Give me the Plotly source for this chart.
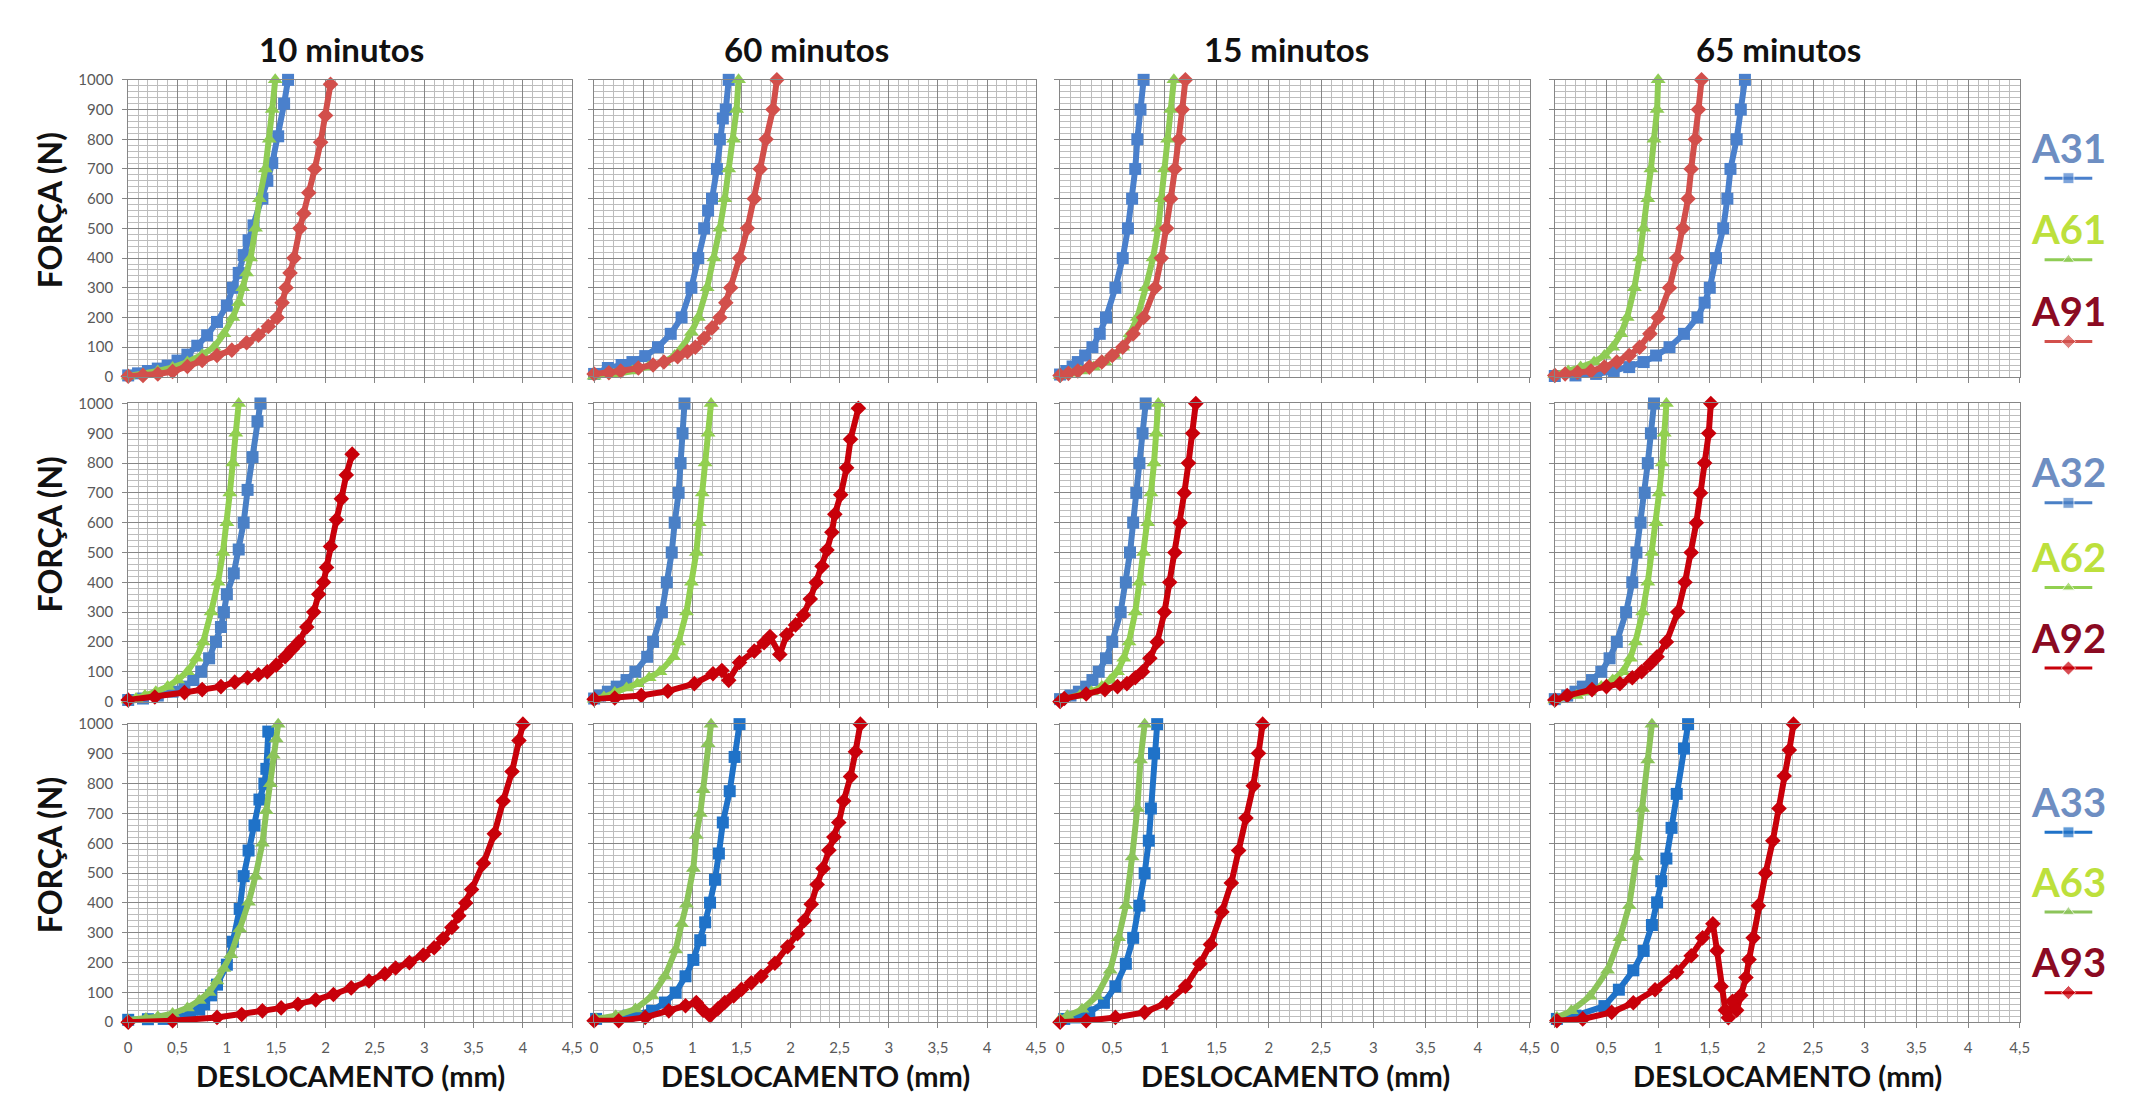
import plotly.graph_objects as go

W, H = 2145, 1102

# ---------------- data (displacement mm, force N) ----------------
# Row 1 -- 10 minutos
r1c1_a31_x = [0, 0.1, 0.2, 0.3, 0.4, 0.5, 0.6, 0.7, 0.8, 0.9, 1.0, 1.06, 1.12, 1.17, 1.22, 1.27, 1.36, 1.41, 1.46, 1.52, 1.58, 1.62]
r1c1_a31_y = [5, 12, 20, 28, 38, 55, 75, 105, 140, 185, 240, 300, 350, 410, 460, 510, 600, 660, 720, 810, 920, 1000]
r1c1_a61_x = [0, 0.15, 0.3, 0.45, 0.6, 0.75, 0.87, 0.97, 1.06, 1.12, 1.16, 1.2, 1.24, 1.29, 1.33, 1.39, 1.43, 1.46, 1.49]
r1c1_a61_y = [3, 10, 20, 32, 50, 75, 100, 145, 200, 250, 300, 350, 400, 500, 600, 700, 800, 900, 1000]
r1c1_a91_x = [0, 0.15, 0.3, 0.45, 0.6, 0.75, 0.9, 1.05, 1.2, 1.32, 1.42, 1.51, 1.56, 1.6, 1.64, 1.68, 1.74, 1.78, 1.83, 1.89, 1.95, 2.0, 2.05]
r1c1_a91_y = [2, 5, 10, 18, 35, 55, 72, 90, 115, 140, 170, 200, 250, 300, 350, 400, 500, 550, 620, 700, 790, 880, 985]
# Row 1 -- 60 minutos
r1c2_a31_x = [0, 0.14, 0.28, 0.39, 0.52, 0.65, 0.78, 0.89, 0.99, 1.06, 1.12, 1.16, 1.2, 1.25, 1.28, 1.31, 1.34, 1.37]
r1c2_a31_y = [10, 30, 40, 50, 70, 100, 145, 200, 300, 400, 500, 560, 600, 700, 800, 870, 900, 1000]
r1c2_a61_x = [0, 0.2, 0.39, 0.55, 0.71, 0.82, 0.9, 0.99, 1.06, 1.15, 1.22, 1.28, 1.33, 1.37, 1.42, 1.45, 1.47]
r1c2_a61_y = [2, 8, 20, 33, 50, 72, 100, 150, 200, 300, 400, 500, 600, 700, 800, 900, 1000]
r1c2_a91_x = [0, 0.15, 0.27, 0.45, 0.6, 0.71, 0.85, 0.95, 1.03, 1.12, 1.2, 1.28, 1.34, 1.39, 1.48, 1.56, 1.63, 1.69, 1.75, 1.82, 1.86]
r1c2_a91_y = [10, 14, 20, 30, 40, 50, 68, 85, 100, 130, 165, 200, 250, 300, 400, 500, 600, 700, 800, 900, 1000]
# Row 1 -- 15 minutos
r1c3_a31_x = [0, 0.06, 0.12, 0.17, 0.24, 0.31, 0.38, 0.44, 0.53, 0.6, 0.65, 0.69, 0.72, 0.74, 0.77, 0.8]
r1c3_a31_y = [8, 20, 35, 50, 72, 100, 145, 200, 300, 400, 500, 600, 700, 800, 900, 1000]
r1c3_a61_x = [0, 0.1, 0.2, 0.32, 0.43, 0.52, 0.6, 0.67, 0.74, 0.82, 0.89, 0.94, 0.97, 1.0, 1.03, 1.06, 1.09]
r1c3_a61_y = [5, 12, 20, 33, 50, 72, 100, 145, 200, 300, 400, 500, 600, 700, 800, 900, 1000]
r1c3_a91_x = [0, 0.08, 0.17, 0.28, 0.4, 0.5, 0.6, 0.7, 0.8, 0.91, 0.97, 1.02, 1.06, 1.1, 1.14, 1.17, 1.2]
r1c3_a91_y = [5, 12, 20, 33, 50, 72, 100, 145, 200, 300, 400, 500, 600, 700, 800, 900, 1000]
# Row 1 -- 65 minutos
r1c4_a31_x = [0, 0.2, 0.4, 0.57, 0.72, 0.86, 0.98, 1.11, 1.25, 1.38, 1.45, 1.5, 1.56, 1.63, 1.67, 1.7, 1.76, 1.8, 1.84]
r1c4_a31_y = [3, 5, 10, 20, 33, 50, 72, 100, 145, 200, 250, 300, 400, 500, 600, 700, 800, 900, 1000]
r1c4_a61_x = [0, 0.13, 0.25, 0.38, 0.48, 0.56, 0.64, 0.7, 0.77, 0.82, 0.86, 0.9, 0.93, 0.96, 0.99, 1.0]
r1c4_a61_y = [8, 20, 33, 50, 72, 100, 145, 200, 300, 400, 500, 600, 700, 800, 900, 1000]
r1c4_a91_x = [0, 0.1, 0.22, 0.35, 0.48, 0.6, 0.72, 0.82, 0.92, 1.0, 1.11, 1.18, 1.24, 1.29, 1.32, 1.36, 1.39, 1.42]
r1c4_a91_y = [5, 10, 15, 20, 33, 50, 72, 100, 145, 200, 300, 400, 500, 600, 700, 800, 900, 1000]

# Row 2 -- 10 minutos
r2c1_a32_x = [0, 0.15, 0.3, 0.45, 0.57, 0.66, 0.74, 0.82, 0.89, 0.94, 0.97, 1.0, 1.07, 1.12, 1.17, 1.21, 1.26, 1.31, 1.34]
r2c1_a32_y = [5, 10, 20, 33, 50, 72, 100, 145, 200, 250, 300, 360, 430, 510, 600, 710, 820, 940, 1000]
r2c1_a62_x = [0, 0.08, 0.17, 0.28, 0.4, 0.5, 0.6, 0.69, 0.76, 0.84, 0.91, 0.96, 1.0, 1.03, 1.06, 1.09, 1.12]
r2c1_a62_y = [5, 10, 20, 33, 50, 72, 100, 145, 200, 300, 400, 500, 600, 700, 800, 900, 1000]
r2c1_a92_x = [0, 0.27, 0.57, 0.75, 0.94, 1.08, 1.21, 1.32, 1.41, 1.5, 1.59, 1.66, 1.73, 1.81, 1.88, 1.93, 1.98, 2.01, 2.05, 2.11, 2.16, 2.21, 2.27]
r2c1_a92_y = [5, 15, 30, 40, 50, 65, 80, 90, 100, 122, 150, 175, 200, 250, 300, 360, 400, 450, 520, 610, 680, 760, 830]
# Row 2 -- 60 minutos
r2c2_a32_x = [0, 0.06, 0.14, 0.23, 0.33, 0.42, 0.54, 0.6, 0.69, 0.74, 0.79, 0.82, 0.86, 0.88, 0.9, 0.92]
r2c2_a32_y = [10, 20, 33, 50, 72, 100, 150, 200, 300, 400, 500, 600, 700, 800, 900, 1000]
r2c2_a62_x = [0, 0.1, 0.21, 0.33, 0.44, 0.56, 0.67, 0.81, 0.86, 0.94, 0.99, 1.04, 1.07, 1.1, 1.13, 1.16, 1.19]
r2c2_a62_y = [8, 15, 30, 45, 60, 80, 100, 150, 200, 300, 400, 500, 600, 700, 800, 900, 1000]
r2c2_a92_x = [0, 0.21, 0.48, 0.75, 1.02, 1.21, 1.3, 1.37, 1.48, 1.63, 1.73, 1.79, 1.89, 1.96, 2.05, 2.13, 2.2, 2.26, 2.32, 2.37, 2.42, 2.45, 2.51, 2.57, 2.61, 2.69]
r2c2_a92_y = [8, 12, 20, 35, 60, 93, 104, 71, 131, 169, 197, 218, 158, 224, 257, 290, 344, 399, 454, 508, 568, 628, 694, 784, 880, 984]
# Row 2 -- 15 minutos
r2c3_a32_x = [0, 0.1, 0.18, 0.25, 0.31, 0.37, 0.44, 0.5, 0.58, 0.63, 0.67, 0.7, 0.73, 0.76, 0.79, 0.82]
r2c3_a32_y = [8, 20, 33, 50, 72, 100, 145, 200, 300, 400, 500, 600, 700, 800, 900, 1000]
r2c3_a62_x = [0, 0.19, 0.3, 0.4, 0.48, 0.55, 0.61, 0.66, 0.72, 0.76, 0.8, 0.84, 0.87, 0.9, 0.92, 0.94]
r2c3_a62_y = [5, 20, 33, 50, 72, 100, 145, 200, 300, 400, 500, 600, 700, 800, 900, 1000]
r2c3_a92_x = [0, 0.04, 0.25, 0.43, 0.55, 0.64, 0.72, 0.79, 0.86, 0.93, 1.0, 1.05, 1.1, 1.15, 1.19, 1.23, 1.27, 1.3]
r2c3_a92_y = [0, 10, 25, 40, 50, 60, 80, 100, 145, 200, 300, 400, 500, 600, 700, 800, 900, 1000]
# Row 2 -- 65 minutos
r2c4_a32_x = [0, 0.12, 0.2, 0.27, 0.36, 0.45, 0.53, 0.6, 0.69, 0.75, 0.79, 0.83, 0.87, 0.9, 0.93, 0.96]
r2c4_a32_y = [8, 20, 33, 50, 72, 100, 145, 200, 300, 400, 500, 600, 700, 800, 900, 1000]
r2c4_a62_x = [0, 0.21, 0.33, 0.45, 0.56, 0.66, 0.73, 0.78, 0.85, 0.9, 0.94, 0.98, 1.01, 1.04, 1.06, 1.08]
r2c4_a62_y = [5, 20, 33, 50, 72, 100, 145, 200, 300, 400, 500, 600, 700, 800, 900, 1000]
r2c4_a92_x = [0, 0.12, 0.36, 0.5, 0.63, 0.75, 0.84, 0.92, 0.99, 1.08, 1.19, 1.26, 1.32, 1.37, 1.41, 1.45, 1.49, 1.51]
r2c4_a92_y = [5, 20, 40, 50, 60, 80, 100, 125, 150, 200, 300, 400, 500, 600, 700, 800, 900, 1000]

# Row 3 -- 10 minutos
r3c1_a33_x = [0, 0.2, 0.36, 0.5, 0.63, 0.72, 0.77, 0.84, 0.9, 1.0, 1.06, 1.13, 1.17, 1.22, 1.28, 1.33, 1.38, 1.4, 1.42]
r3c1_a33_y = [8, 10, 11, 18, 27, 42, 60, 90, 126, 193, 270, 380, 490, 576, 660, 747, 800, 850, 975]
r3c1_a63_x = [0, 0.18, 0.3, 0.45, 0.6, 0.72, 0.82, 0.9, 0.97, 1.04, 1.13, 1.22, 1.29, 1.36, 1.4, 1.44, 1.47, 1.5, 1.52]
r3c1_a63_y = [7, 12, 18, 29, 48, 73, 100, 138, 180, 226, 313, 402, 490, 600, 709, 800, 896, 950, 1000]
r3c1_a93_x = [0, 0.45, 0.9, 1.15, 1.36, 1.55, 1.72, 1.9, 2.08, 2.26, 2.44, 2.6, 2.71, 2.85, 2.99, 3.1, 3.19, 3.28, 3.35, 3.42, 3.48, 3.6, 3.71, 3.8, 3.89, 3.96, 4.0]
r3c1_a93_y = [0, 5, 16, 26, 38, 48, 60, 75, 93, 115, 138, 162, 182, 200, 225, 250, 280, 318, 357, 400, 445, 533, 632, 742, 841, 945, 1000]
# Row 3 -- 60 minutos
r3c2_a33_x = [0.02, 0.35, 0.59, 0.72, 0.83, 0.93, 1.01, 1.08, 1.13, 1.18, 1.23, 1.27, 1.31, 1.38, 1.43, 1.48]
r3c2_a33_y = [11, 22, 38, 66, 99, 154, 209, 275, 335, 401, 478, 566, 670, 775, 890, 1000]
r3c2_a63_x = [0.02, 0.22, 0.42, 0.59, 0.72, 0.83, 0.89, 0.94, 1.01, 1.04, 1.08, 1.11, 1.16, 1.19]
r3c2_a63_y = [11, 22, 44, 88, 154, 242, 330, 396, 516, 626, 700, 780, 934, 1000]
r3c2_a93_x = [0, 0.25, 0.52, 0.76, 0.93, 1.04, 1.11, 1.18, 1.26, 1.33, 1.42, 1.5, 1.6, 1.7, 1.84, 1.97, 2.07, 2.14, 2.21, 2.27, 2.33, 2.39, 2.44, 2.49, 2.54, 2.61, 2.66, 2.71]
r3c2_a93_y = [5, 5, 16, 38, 55, 66, 40, 22, 45, 66, 88, 110, 132, 154, 198, 253, 297, 341, 396, 462, 516, 577, 621, 670, 742, 824, 907, 1000]
# Row 3 -- 15 minutos
r3c3_a33_x = [0.04, 0.14, 0.28, 0.42, 0.53, 0.63, 0.7, 0.76, 0.81, 0.85, 0.87, 0.9, 0.93]
r3c3_a33_y = [11, 16, 33, 65, 120, 196, 283, 391, 500, 609, 717, 902, 1000]
r3c3_a63_x = [0.0, 0.07, 0.21, 0.35, 0.48, 0.56, 0.63, 0.69, 0.74, 0.77, 0.81]
r3c3_a63_y = [10, 22, 43, 87, 174, 283, 391, 554, 717, 880, 1000]
r3c3_a93_x = [0, 0.25, 0.53, 0.81, 1.02, 1.2, 1.34, 1.44, 1.55, 1.64, 1.71, 1.78, 1.85, 1.9, 1.94]
r3c3_a93_y = [0, 5, 16, 33, 65, 120, 196, 261, 370, 467, 576, 685, 793, 902, 1000]
# Row 3 -- 65 minutos
r3c4_a33_x = [0.02, 0.2, 0.48, 0.62, 0.76, 0.86, 0.94, 0.99, 1.03, 1.08, 1.13, 1.18, 1.25, 1.29]
r3c4_a33_y = [11, 22, 54, 109, 174, 239, 326, 402, 473, 549, 652, 766, 918, 1000]
r3c4_a63_x = [0.02, 0.16, 0.34, 0.51, 0.63, 0.72, 0.79, 0.85, 0.9, 0.94]
r3c4_a63_y = [16, 38, 87, 174, 283, 391, 554, 717, 880, 1000]
r3c4_a93_x = [0.02, 0.27, 0.55, 0.76, 0.97, 1.18, 1.32, 1.43, 1.53, 1.57, 1.61, 1.65, 1.68, 1.72, 1.76, 1.8, 1.85, 1.88, 1.92, 1.97, 2.04, 2.11, 2.17, 2.22, 2.27, 2.31]
r3c4_a93_y = [5, 11, 33, 65, 109, 168, 223, 283, 330, 240, 120, 40, 15, 70, 40, 90, 150, 210, 283, 391, 500, 609, 717, 826, 913, 1000]

col_titles = ["10 minutos", "60 minutos", "15 minutos", "65 minutos"]
legend_labels = [["A31", "A61", "A91"], ["A32", "A62", "A92"], ["A33", "A63", "A93"]]
x_tickvals = [0, 0.5, 1, 1.5, 2, 2.5, 3, 3.5, 4, 4.5]
x_ticktext = ["0", "0,5", "1", "1,5", "2", "2,5", "3", "3,5", "4", "4,5"]
y_tickvals = [0, 100, 200, 300, 400, 500, 600, 700, 800, 900, 1000]
y_ticktext = ["0", "100", "200", "300", "400", "500", "600", "700", "800", "900", "1000"]

panels = [
    [(r1c1_a31_x, r1c1_a31_y, r1c1_a61_x, r1c1_a61_y, r1c1_a91_x, r1c1_a91_y),
     (r1c2_a31_x, r1c2_a31_y, r1c2_a61_x, r1c2_a61_y, r1c2_a91_x, r1c2_a91_y),
     (r1c3_a31_x, r1c3_a31_y, r1c3_a61_x, r1c3_a61_y, r1c3_a91_x, r1c3_a91_y),
     (r1c4_a31_x, r1c4_a31_y, r1c4_a61_x, r1c4_a61_y, r1c4_a91_x, r1c4_a91_y)],
    [(r2c1_a32_x, r2c1_a32_y, r2c1_a62_x, r2c1_a62_y, r2c1_a92_x, r2c1_a92_y),
     (r2c2_a32_x, r2c2_a32_y, r2c2_a62_x, r2c2_a62_y, r2c2_a92_x, r2c2_a92_y),
     (r2c3_a32_x, r2c3_a32_y, r2c3_a62_x, r2c3_a62_y, r2c3_a92_x, r2c3_a92_y),
     (r2c4_a32_x, r2c4_a32_y, r2c4_a62_x, r2c4_a62_y, r2c4_a92_x, r2c4_a92_y)],
    [(r3c1_a33_x, r3c1_a33_y, r3c1_a63_x, r3c1_a63_y, r3c1_a93_x, r3c1_a93_y),
     (r3c2_a33_x, r3c2_a33_y, r3c2_a63_x, r3c2_a63_y, r3c2_a93_x, r3c2_a93_y),
     (r3c3_a33_x, r3c3_a33_y, r3c3_a63_x, r3c3_a63_y, r3c3_a93_x, r3c3_a93_y),
     (r3c4_a33_x, r3c4_a33_y, r3c4_a63_x, r3c4_a63_y, r3c4_a93_x, r3c4_a93_y)],
]

# ---------------- styling ----------------
COLS_PX = [(125, 572), (594, 1039), (1063, 1536), (1561, 2029)]
ROWS_PX = [(71, 373), (400, 703), (726, 1029)]
row_colors = [
    ["#4a80cc", "#8fcc55", "#d24f4b"],
    ["#4a80c6", "#92d050", "#c8000a"],
    ["#1f72c8", "#8cc45a", "#c8000a"],
]
symbols = ["square", "triangle-up", "diamond"]
msizes = [12, 13, 12]
legend_text_colors = ["#6e8ec2", "#bde03c", "#8b0a22"]
FONT = "Lato"
MAJOR = "#868686"
MINOR = "#bdbdbd"

fig = go.Figure()
layout = dict(
    width=W, height=H, autosize=False,
    margin=dict(l=0, r=0, t=0, b=0),
    paper_bgcolor="white", plot_bgcolor="rgba(0,0,0,0)",
    showlegend=False, font=dict(family=FONT, color="#404040"),
)

annotations = []
idx = 0
for r in range(3):
    for c in range(4):
        idx += 1
        sfx = "" if idx == 1 else str(idx)
        x0, x1 = COLS_PX[c]
        y0, y1 = ROWS_PX[r]
        layout["xaxis" + sfx] = dict(
            domain=[x0 / W, x1 / W], range=[0, 4.5], anchor="y" + sfx,
            tickmode="array", tickvals=x_tickvals, ticktext=x_ticktext,
            showticklabels=(r == 2), ticks="outside", ticklen=5, tickcolor=MAJOR,
            tickfont=dict(family=FONT, size=15, color="#595959"), ticklabelstandoff=7,
            showgrid=True, gridcolor=MAJOR, gridwidth=1,
            minor=dict(dtick=0.1, tick0=0, showgrid=True, gridcolor=MINOR, gridwidth=1, ticks=""),
            showline=True, linecolor=MAJOR, linewidth=1, mirror=True,
            zeroline=False, fixedrange=True,
        )
        layout["yaxis" + sfx] = dict(
            domain=[1 - y1 / H, 1 - y0 / H], range=[0, 1000], anchor="x" + sfx,
            tickmode="array", tickvals=y_tickvals, ticktext=y_ticktext,
            showticklabels=(c == 0), ticks="outside", ticklen=5, tickcolor=MAJOR,
            tickfont=dict(family=FONT, size=15, color="#595959"), ticklabelstandoff=6,
            showgrid=True, gridcolor=MAJOR, gridwidth=1,
            minor=dict(dtick=20, tick0=0, showgrid=True, gridcolor=MINOR, gridwidth=1, ticks=""),
            showline=True, linecolor=MAJOR, linewidth=1, mirror=True,
            zeroline=False, fixedrange=True,
        )
        data = panels[r][c]
        for k in range(3):
            xs, ys = data[2 * k], data[2 * k + 1]
            col = row_colors[r][k]
            fig.add_trace(go.Scatter(
                x=xs, y=ys, mode="lines+markers", xaxis="x" + sfx, yaxis="y" + sfx,
                line=dict(color=col, width=6),
                marker=dict(symbol=symbols[k], size=msizes[k], color=col),
                cliponaxis=False, name=legend_labels[r][k], hoverinfo="skip",
            ))

# column titles and x-axis titles
for c in range(4):
    x0, x1 = COLS_PX[c]
    annotations.append(dict(text="<b>%s</b>" % col_titles[c], x=(x0 + x1) / 2 / W - 0.004, y=1 - 40 / H,
                            xref="paper", yref="paper", showarrow=False,
                            font=dict(family=FONT, size=33, color="#111111"),
                            xanchor="center", yanchor="middle"))
    annotations.append(dict(text="<b>DESLOCAMENTO (mm)</b>", x=(x0 + x1) / 2 / W, y=1 - 1083 / H,
                            xref="paper", yref="paper", showarrow=False,
                            font=dict(family=FONT, size=29, color="#111111"),
                            xanchor="center", yanchor="middle"))
# y-axis titles
for r in range(3):
    y0, y1 = ROWS_PX[r]
    annotations.append(dict(text="<b>FORÇA (N)</b>", x=46 / W, y=1 - ((y0 + y1) / 2 - 18) / H,
                            xref="paper", yref="paper", showarrow=False, textangle=-90,
                            font=dict(family=FONT, size=32, color="#111111"),
                            xanchor="center", yanchor="middle"))

# legend blocks (text + swatch) to the right of each row
LEG_TEXT_Y = [[140, 223, 306], [470, 556, 638], [805, 886, 968]]
LEG_X = 2078
for r in range(3):
    for k in range(3):
        ty = LEG_TEXT_Y[r][k]
        annotations.append(dict(text="<b>%s</b>" % legend_labels[r][k], x=LEG_X / W, y=1 - ty / H,
                                xref="paper", yref="paper", showarrow=False,
                                font=dict(family=FONT, size=40, color=legend_text_colors[k]),
                                xanchor="center", yanchor="middle"))
        sy = ty + 31
        fig.add_trace(go.Scatter(
            x=[LEG_X - 24, LEG_X, LEG_X + 24], y=[sy, sy, sy], xaxis="x13", yaxis="y13",
            mode="lines+markers", line=dict(color=row_colors[r][k], width=3),
            marker=dict(symbol=symbols[k], size=[0, 11, 0], color=row_colors[r][k]),
            hoverinfo="skip", cliponaxis=False,
        ))

layout["xaxis13"] = dict(domain=[0, 1], range=[0, W], visible=False, anchor="y13", fixedrange=True)
layout["yaxis13"] = dict(domain=[0, 1], range=[H, 0], visible=False, anchor="x13", fixedrange=True)
layout["annotations"] = annotations
fig.update_layout(**layout)

fig.write_html("out.html", include_plotlyjs=True,
               config={"displayModeBar": False, "staticPlot": True},
               post_script="document.body.style.margin='0';document.body.style.overflow='hidden';")
